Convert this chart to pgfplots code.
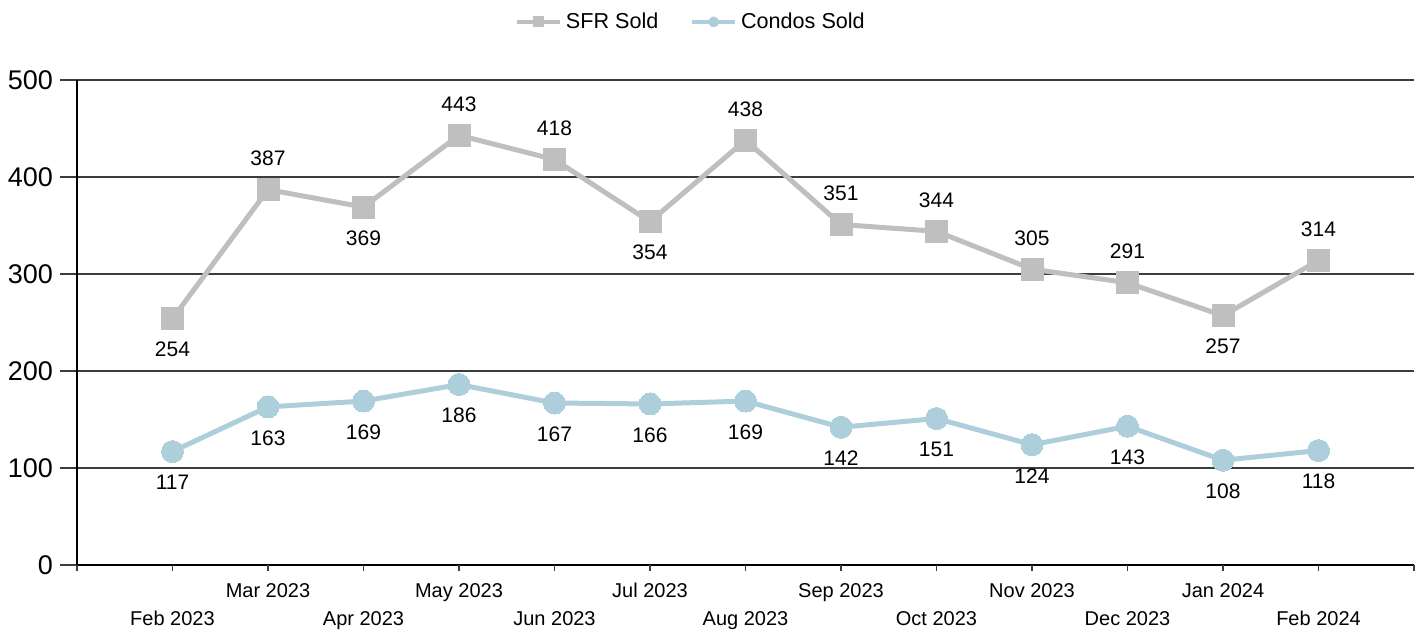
\documentclass[border=0pt]{standalone}
\usepackage{pgfplots}
\pgfplotsset{compat=1.18}
\usepackage{pgfplotstable}
\usepackage{fontspec}
\setmainfont{Liberation Sans}
\usetikzlibrary{calc}
\definecolor{sfr}{RGB}{191,191,191}
\definecolor{condo}{RGB}{173,207,219}
\definecolor{gridc}{RGB}{60,60,60}
\pgfplotstableread{
x y pos
0 254 -1
1 387 1
2 369 -1
3 443 1
4 418 1
5 354 -1
6 438 1
7 351 1
8 344 1
9 305 1
10 291 1
11 257 -1
12 314 1
}\sfrdata
\pgfplotstableread{
x y pos
0 117 -1
1 163 -1
2 169 -1
3 186 -1
4 167 -1
5 166 -1
6 169 -1
7 142 -1
8 151 -1
9 124 -1
10 143 -1
11 108 -1
12 118 -1
}\condodata
\newcommand{\lo}[1]{\vphantom{Mar 2023}\\#1}
\begin{document}
\begin{tikzpicture}
\begin{axis}[
  name=ax,
  scale only axis,
  width=668.5pt, height=242.5pt,
  xmin=-1, xmax=13, ymin=0, ymax=500,
  axis x line*=bottom, axis y line*=left,
  x axis line style={line width=1.3pt, black},
  y axis line style={line width=1pt, black},
  ytick={0,100,...,500},
  ymajorgrids,
  major grid style={gridc, line width=0.8pt},
  major tick length=8.5pt,
  tick align=outside,
  ytick style={gridc, line width=0.8pt},
  yticklabel style={font=\fontsize{13.5}{15}\selectfont},
  /pgf/number format/assume math mode=true,
  xtick=\empty,
  extra x ticks={-1,0,...,13},
  extra x tick labels={,{\lo{Feb 2023}},{Mar 2023},{\lo{Apr 2023}},{May 2023},{\lo{Jun 2023}},{Jul 2023},{\lo{Aug 2023}},{Sep 2023},{\lo{Oct 2023}},{Nov 2023},{\lo{Dec 2023}},{Jan 2024},{\lo{Feb 2024}},},
  extra x tick style={major tick length=3pt, tick style={gridc, line width=0.6pt},
    tick label style={font=\fontsize{10}{14}\selectfont, align=center, anchor=north, yshift=-2.5pt}},
  legend style={at={(0.46,1.12)}, anchor=center, draw=none, legend columns=2,
    font=\fontsize{10.8}{12}\selectfont, /tikz/every even column/.append style={column sep=14pt}},
  legend image code/.code={\draw[#1, line width=2pt, mark=none] (0cm,0cm) -- (0.75cm,0cm);
    \draw[#1, line width=2pt, mark size=2.5pt] plot coordinates {(0.375cm,0cm)};},
  nodes near coords,
  visualization depends on={\thisrow{pos} \as \labpos},
  every node near coord/.append style={anchor=center, yshift=\labpos*15.5pt, black, font=\fontsize{10.5}{12}\selectfont},
]
\addplot[sfr, line width=2.5pt, mark=square*, mark size=5.5pt, mark options={fill=sfr, draw=sfr, line width=0pt}] table[x=x,y=y] {\sfrdata};
\addlegendentry{SFR Sold}
\addplot[condo, line width=2.5pt, mark=*, mark size=5.5pt, mark options={fill=condo, draw=condo, line width=0pt}] table[x=x,y=y] {\condodata};
\addlegendentry{Condos Sold}
\end{axis}
\pgfresetboundingbox
\path ($(ax.south west)+(-38.5pt,-32.5pt)$) rectangle ($(ax.north east)+(4pt,40pt)$);
\end{tikzpicture}
\end{document}
